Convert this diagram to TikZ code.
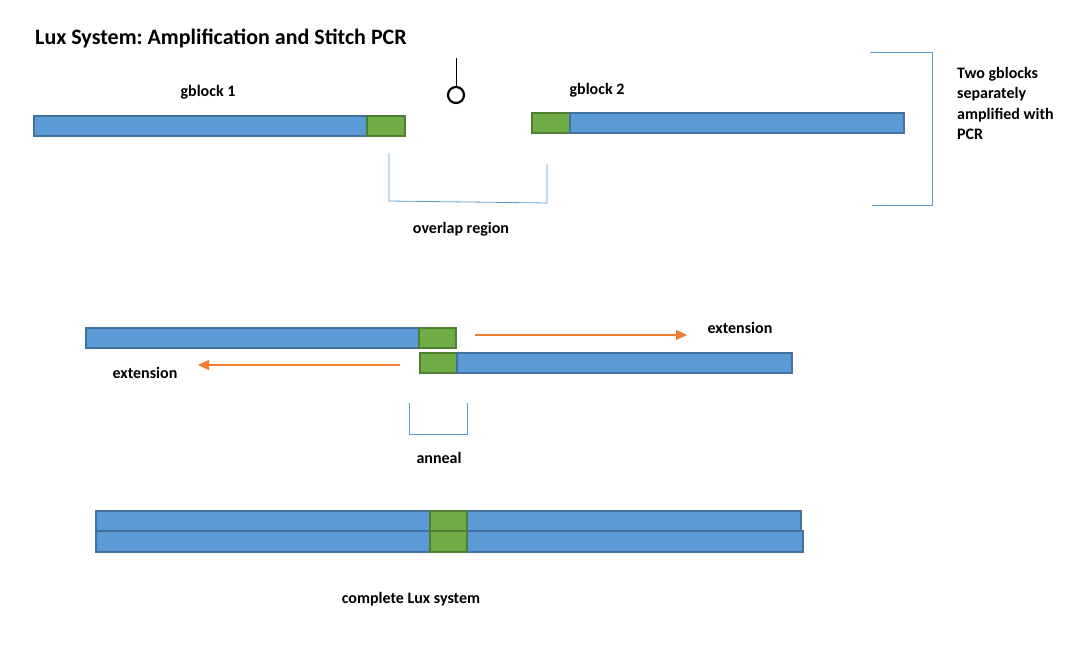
\documentclass[tikz,border=0pt]{standalone}
\usepackage{fontspec}
\setmainfont{Carlito}
\frenchspacing
\usetikzlibrary{arrows.meta}
\definecolor{barblue}{HTML}{5B9BD5}
\definecolor{blueedge}{HTML}{41719C}
\definecolor{bargreen}{HTML}{70AD47}
\definecolor{greenedge}{HTML}{507E32}
\definecolor{extorange}{HTML}{ED7D31}
\tikzset{
	bluebar/.style={draw=blueedge, fill=barblue, line width=1.6pt, anchor=north west, inner sep=0, outer sep=0, minimum height=20},
	greenbar/.style={draw=greenedge, fill=bargreen, line width=1.6pt, anchor=north west, inner sep=0, outer sep=0, minimum height=20},
	lbl/.style={font=\bfseries\fontsize{16}{18}\selectfont, inner sep=0},
	bracket/.style={draw=barblue, line width=0.8pt},
	ext/.style={draw=extorange, line width=1.3pt, -{Triangle[length=11pt, width=10pt]}}
}
\begin{document}
\begin{tikzpicture}[x=1pt, y=-1pt]
	\useasboundingbox (0,0) rectangle (1066,659);
	\node[anchor=west, inner sep=0, font=\bfseries\fontsize{22}{24}\selectfont] (title) at (35,38) {Lux System: Amplification and Stitch PCR};
	
	\node[bluebar, minimum width=333] (b1) at (34,116) {};
	\node[greenbar, minimum width=38] (g1) at (367,116) {};
	\node[greenbar, minimum width=38] (g2) at (532,113) {};
	\node[bluebar, minimum width=334] (b2) at (570,113) {};
	\node[lbl] (l1) at (208,92) {gblock 1};
	\node[lbl] (l2) at (597,90) {gblock 2};
	
	\coordinate (ct) at (456,58);
	\node[draw, circle, line width=2.2pt, minimum size=16, inner sep=0] (c) at (456,95) {};
	\draw[line width=1pt] (ct) -- (c);
	
	\draw[bracket] (389,153) -- (389,201) -- (547,203) -- (547,164);
	\node[lbl] (ov) at (461,229) {overlap region};
	
	\draw[bracket] (870,52) -- (932,52) -- (932,205) -- (872,205);
	\node[lbl, anchor=north west, align=left, font=\bfseries\fontsize{16}{20.5}\selectfont] (two) at (957,67) {Two gblocks\\separately\\amplified with\\PCR};
	
	\node[bluebar, minimum width=333] (b3) at (86,328) {};
	\node[greenbar, minimum width=37] (g3) at (419,328) {};
	\node[greenbar, minimum width=37] (g4) at (420,353) {};
	\node[bluebar, minimum width=335] (b4) at (457,353) {};
	
	\coordinate (e1) at (475,335);
	\coordinate (e2) at (687,335);
	\coordinate (e3) at (400,365);
	\coordinate (e4) at (198,365);
	\draw[ext] (e1) -- (e2);
	\draw[ext] (e3) -- (e4);
	\node[lbl] (x1) at (740,328) {extension};
	\node[lbl] (x2) at (145,373) {extension};
	
	\draw[bracket] (409,403) -- (409,434) -- (467,434) -- (467,403);
	\node[lbl] (an) at (439,458) {anneal};
	
	\node[bluebar, minimum width=334] (b5) at (96,511) {};
	\node[bluebar, minimum width=334] (b6) at (467,511) {};
	\node[bluebar, minimum width=334, minimum height=21] (b7) at (96,531) {};
	\node[bluebar, minimum width=336, minimum height=21] (b8) at (467,531) {};
	\node[greenbar, minimum width=37] (g5) at (430,511) {};
	\node[greenbar, minimum width=37, minimum height=21] (g6) at (430,531) {};
	\node[lbl] (cl) at (411,599) {complete Lux system};
	
\end{tikzpicture}
\end{document}
